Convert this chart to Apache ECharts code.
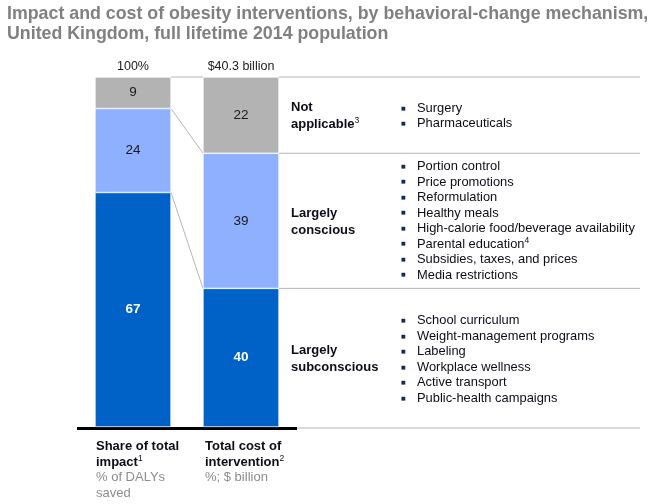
<!DOCTYPE html>
<html>
<head>
<meta charset="utf-8">
<script src="https://cdn.jsdelivr.net/npm/echarts@6/dist/echarts.min.js"></script>
<style>
html,body{margin:0;padding:0;background:#fff;}
#c{width:667px;height:504px;}
</style>
</head>
<body>
<div id="c"></div>
<script>
// ---- data (top-to-bottom order: not applicable, conscious, subconscious) ----
const mechanisms = ['Not applicable', 'Largely conscious', 'Largely subconscious'];
const mechanismLabels = ['{b|Not}\n{b|applicable}{sup|3}', '{b|Largely}\n{b|conscious}', '{b|Largely}\n{b|subconscious}'];
const impactShare = [9, 24, 67];   // % of DALYs saved
const costShare = [22, 39, 40];    // % of total cost
const barTotals = ['100%', '$40.3 billion'];
const interventions = [
  ['Surgery', 'Pharmaceuticals'],
  ['Portion control', 'Price promotions', 'Reformulation', 'Healthy meals',
   'High-calorie food/beverage availability', 'Parental education{sup|4}',
   'Subsidies, taxes, and prices', 'Media restrictions'],
  ['School curriculum', 'Weight-management programs', 'Labeling',
   'Workplace wellness', 'Active transport', 'Public-health campaigns']
];
const colors = ['#b3b3b3', '#8fb0ff', '#0062c6'];
const labelColors = ['#1a1a1a', '#1a1a1a', '#ffffff'];
const labelWeights = ['normal', 'normal', 'bold'];

const FONT = "'Liberation Sans', Arial, sans-serif";
const TXT = '#0d0d1a';
const chart = echarts.init(document.getElementById('c'), null, {renderer: 'canvas'});

function sum(a){ return a.reduce((s, v) => s + v, 0); }

function makeSeries(values, idx) {
  const out = [];
  for (let k = values.length - 1; k >= 0; k--) {
    out.push({
      type: 'bar', stack: 's' + idx, xAxisIndex: idx, yAxisIndex: idx,
      barWidth: '100%', data: [values[k]],
      itemStyle: {color: colors[k], borderColor: '#fff', borderWidth: 0.6},
      label: {show: true, position: 'inside', formatter: '{c}', fontFamily: FONT,
        fontSize: 13.5, color: labelColors[k], fontWeight: labelWeights[k]},
      silent: true
    });
  }
  return out;
}

chart.setOption({
  animation: false,
  title: {
    text: 'Impact and cost of obesity interventions, by behavioral-change mechanism,\nUnited Kingdom, full lifetime 2014 population',
    left: 2, top: -1,
    textStyle: {fontFamily: FONT, fontSize: 17.8, fontWeight: 'bold', color: '#808080', lineHeight: 20}
  },
  grid: [
    {left: 95, top: 77, width: 76, height: 350},
    {left: 203, top: 77, width: 76, height: 350}
  ],
  xAxis: [
    {type: 'category', gridIndex: 0, data: ['impact'], show: false},
    {type: 'category', gridIndex: 1, data: ['cost'], show: false}
  ],
  yAxis: [
    {type: 'value', gridIndex: 0, min: 0, max: sum(impactShare), show: false},
    {type: 'value', gridIndex: 1, min: 0, max: sum(costShare), show: false}
  ],
  series: makeSeries(impactShare, 0).concat(makeSeries(costShare, 1))
});

// ---- decorations computed from the axes ----
function rectOf(i) {
  return chart.getModel().getComponent('grid', i).coordinateSystem.getRect();
}
const r0 = rectOf(0), r1 = rectOf(1);
function yAt(axis, v) { return chart.convertToPixel({yAxisIndex: axis}, v); }
function boundaries(values) {
  const total = sum(values); const b = [total]; let acc = total;
  for (let k = 0; k < values.length; k++) { acc -= values[k]; b.push(acc); }
  return b;
}
const b0 = boundaries(impactShare), b1 = boundaries(costShare);
const RIGHT_END = 640;
const LINE = '#b5b5b5';
const g = [];

for (let k = 0; k < 3; k++) {
  g.push({type: 'line', silent: true, shape: {x1: r0.x + r0.width, y1: yAt(0, b0[k]), x2: r1.x, y2: yAt(1, b1[k])},
    style: {stroke: LINE, lineWidth: 1}});
}
for (let k = 0; k < 3; k++) {
  g.push({type: 'line', silent: true, shape: {x1: r1.x + r1.width, y1: yAt(1, b1[k]), x2: RIGHT_END, y2: yAt(1, b1[k])},
    style: {stroke: LINE, lineWidth: 1}});
}
const yBottom = yAt(0, 0);
g.push({type: 'line', silent: true, shape: {x1: r1.x + r1.width, y1: yBottom + 1, x2: RIGHT_END, y2: yBottom + 1},
  style: {stroke: LINE, lineWidth: 1}});
g.push({type: 'line', silent: true, shape: {x1: 77, y1: yBottom + 1.5, x2: 297, y2: yBottom + 1.5},
  style: {stroke: '#000', lineWidth: 3}});

const totalsX = [r0.x + r0.width / 2, r1.x + r1.width / 2];
for (let i = 0; i < 2; i++) {
  g.push({type: 'text', silent: true, x: totalsX[i], y: yAt(i, i === 0 ? sum(impactShare) : sum(costShare)) - 10,
    style: {text: barTotals[i], fontFamily: FONT, fontSize: 12.5, fill: '#1a1a1a', align: 'center', verticalAlign: 'middle'}});
}

const rich = {
  b: {fontFamily: FONT, fontSize: 13, fontWeight: 'bold', fill: TXT, lineHeight: 16.5},
  t: {fontFamily: FONT, fontSize: 12.9, fill: TXT, lineHeight: 15.5},
  sup: {fontFamily: FONT, fontSize: 8.5, fill: TXT, verticalAlign: 'top', lineHeight: 15.5}
};
const listShift = [1, 0, 2];
for (let k = 0; k < 3; k++) {
  const yc = (yAt(1, b1[k]) + yAt(1, b1[k + 1])) / 2;
  g.push({type: 'text', silent: true, x: 291, y: yc + 1,
    style: {text: mechanismLabels[k], rich: rich, align: 'left', verticalAlign: 'middle'}});
  const lines = interventions[k].map(s => s.replace(/^([^{]+)/, '{t|$1}')).join('\n');
  g.push({type: 'text', silent: true, x: 417, y: yc + listShift[k],
    style: {text: lines, rich: rich, align: 'left', verticalAlign: 'middle'}});
  const bullets = interventions[k].map(() => '{d|■}').join('\n');
  g.push({type: 'text', silent: true, x: 401, y: yc + listShift[k],
    style: {text: bullets, rich: {d: {fontFamily: 'DejaVu Sans', fontSize: 5, fill: '#102a60', lineHeight: 15.5}},
      align: 'left', verticalAlign: 'middle'}});
}

const captions = [
  '{b|Share of total}\n{b|impact}{sup|1}\n{s|% of DALYs}\n{s|saved}',
  '{b|Total cost of}\n{b|intervention}{sup|2}\n{s|%; $ billion}'
];
const capRich = {
  b: {fontFamily: FONT, fontSize: 13, fontWeight: 'bold', fill: TXT, lineHeight: 15.5},
  sup: {fontFamily: FONT, fontSize: 8.5, fill: TXT, verticalAlign: 'top', lineHeight: 15.5},
  s: {fontFamily: FONT, fontSize: 13, fill: '#8c8c8c', lineHeight: 15.5}
};
const capX = [r0.x + 1, r1.x + 2];
for (let i = 0; i < 2; i++) {
  g.push({type: 'text', silent: true, x: capX[i], y: yBottom + 12,
    style: {text: captions[i], rich: capRich, align: 'left', verticalAlign: 'top'}});
}

chart.setOption({graphic: g});
</script>
</body>
</html>
